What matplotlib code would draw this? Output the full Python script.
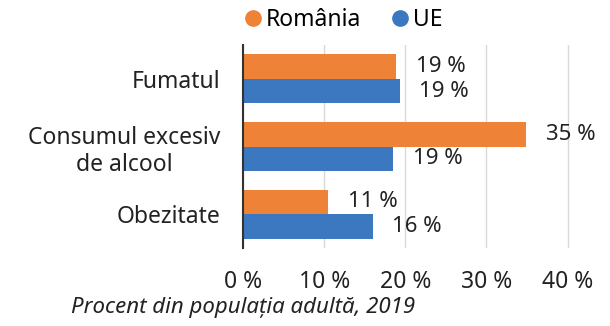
import matplotlib.pyplot as plt
from matplotlib.lines import Line2D
import numpy as np

categories = ['Fumatul', 'Consumul excesiv\nde alcool', 'Obezitate']
romania = [18.9, 34.9, 10.5]
ue = [19.3, 18.5, 16.0]
romania_labels = ['19 %', '35 %', '11 %']
ue_labels = ['19 %', '19 %', '16 %']
xticks = [0, 10, 20, 30, 40]

plt.rcParams['font.family'] = ['Noto Sans', 'DejaVu Sans']

orange = '#EE8236'
blue = '#3B78C0'
txt = '#222222'

fig = plt.figure(figsize=(6.1, 3.26), dpi=100)
ax = fig.add_axes([243 / 610, 1 - 248 / 326, 357 / 610, 203 / 326])

y = np.arange(len(categories))
h = 0.363
ax.barh(y - h / 2, romania, height=h, color=orange)
ax.barh(y + h / 2, ue, height=h, color=blue)

# etichete cu valori
for yi, v, lab in zip(y, romania, romania_labels):
    ax.annotate(lab, (v, yi - h / 2), xytext=(14, 0), textcoords='offset points',
                va='center', ha='left', fontsize=16, color=txt)
for yi, v, lab in zip(y, ue, ue_labels):
    ax.annotate(lab, (v, yi + h / 2), xytext=(14, 0), textcoords='offset points',
                va='center', ha='left', fontsize=16, color=txt)

ax.set_ylim(2.5, -0.5)
ax.set_xlim(0, 44)
ax.set_yticks(y)
ax.set_yticklabels(categories, fontsize=16.5, multialignment='center', color=txt)
ax.set_xticks(xticks)
ax.set_xticklabels([f'{t} %' for t in xticks], fontsize=16.5, color=txt)
ax.tick_params(length=0)
ax.tick_params(axis='x', pad=16)
ax.tick_params(axis='y', pad=16)
ax.grid(axis='x', color='#d9d9d9', linewidth=1)
ax.set_axisbelow(True)
for s in ['top', 'right', 'bottom']:
    ax.spines[s].set_visible(False)
ax.spines['left'].set_color('#333333')
ax.spines['left'].set_linewidth(1.5)

fig.text(243 / 610, 1 - 307 / 326, 'Procent din populația adultă, 2019', ha='center',
         va='center', fontsize=16, style='italic', color=txt)

handles = [Line2D([], [], marker='o', linestyle='none', markersize=11, color=orange),
           Line2D([], [], marker='o', linestyle='none', markersize=11, color=blue)]
fig.legend(handles, ['România', 'UE'], loc='center left',
           bbox_to_anchor=(244 / 610, 1 - 20 / 326), ncol=2, frameon=False,
           fontsize=16.5, handlelength=0.8, handletextpad=0.15, columnspacing=1.3,
           borderaxespad=0, borderpad=0)

plt.savefig('out.png', dpi=100)
